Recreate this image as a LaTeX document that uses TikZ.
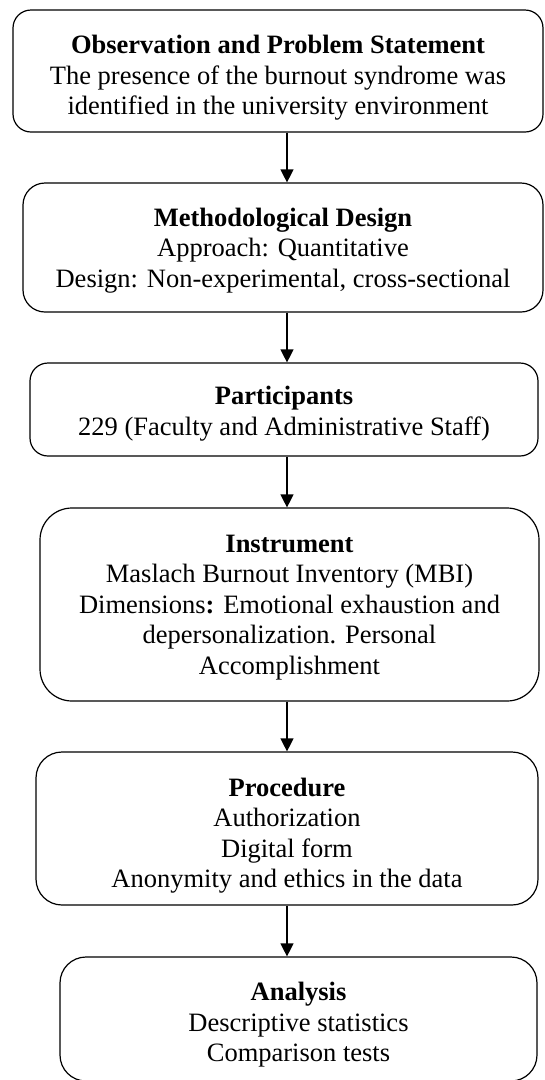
\documentclass[tikz,border=0pt]{standalone}
\usepackage{fontspec}
\setmainfont{Liberation Serif}
\usetikzlibrary{arrows.meta}
\begin{document}
\begin{tikzpicture}[x=1pt,y=-1pt,
  stepbox/.style={draw, line width=1.2pt, inner sep=0pt},
  steptext/.style={align=center, inner sep=0pt,
    font=\fontsize{26.5}{30.5}\selectfont},
  flow/.style={line width=1.2pt, -{Triangle[length=13pt,width=13pt]}}]
\useasboundingbox (0,0) rectangle (545,1080);

% vertical spine the connectors follow
\coordinate (spine) at (287,0);

% boxes
\node[stepbox, rounded corners=18pt, minimum width=530pt, minimum height=122pt] (obs) at (278,71) {};
\node[stepbox, rounded corners=22pt, minimum width=520pt, minimum height=129pt] (design) at (283,247.5) {};
\node[stepbox, rounded corners=18pt, minimum width=508pt, minimum height=93pt] (part) at (284,409.5) {};
\node[stepbox, rounded corners=32pt, minimum width=499pt, minimum height=193pt] (instr) at (289.5,604.5) {};
\node[stepbox, rounded corners=26pt, minimum width=502pt, minimum height=153pt] (proc) at (287,828.5) {};
\node[stepbox, rounded corners=26pt, minimum width=477pt, minimum height=124pt] (anal) at (298.5,1019) {};

% box texts, sitting a little below each box centre
\node[steptext] (obs-t) at ([yshift=-7pt]obs.center)
  {\textbf{Observation and Problem Statement}\\The presence of the burnout syndrome was\\identified in the university environment};
\node[steptext] (design-t) at ([yshift=-3pt]design.center)
  {\textbf{Methodological Design}\\Approach: Quantitative\\Design: Non-experimental, cross-sectional};
\node[steptext] (part-t) at ([yshift=-4pt]part.center)
  {\textbf{Participants}\\229 (Faculty and Administrative Staff)};
\node[steptext] (instr-t) at ([yshift=-3pt]instr.center)
  {\textbf{Instrument}\\Maslach Burnout Inventory (MBI)\\Dimensions\textbf{:} Emotional exhaustion and\\depersonalization. Personal\\Accomplishment};
\node[steptext] (proc-t) at ([yshift=-7pt]proc.center)
  {\textbf{Procedure}\\Authorization\\Digital form\\Anonymity and ethics in the data};
\node[steptext] (anal-t) at ([yshift=-6pt]anal.center)
  {\textbf{Analysis}\\Descriptive statistics\\Comparison tests};

% connectors
\draw[flow] (obs.south -| spine) -- (design.north -| spine);
\draw[flow] (design.south -| spine) -- (part.north -| spine);
\draw[flow] (part.south -| spine) -- (instr.north -| spine);
\draw[flow] (instr.south -| spine) -- (proc.north -| spine);
\draw[flow] (proc.south -| spine) -- (anal.north -| spine);
\end{tikzpicture}
\end{document}
